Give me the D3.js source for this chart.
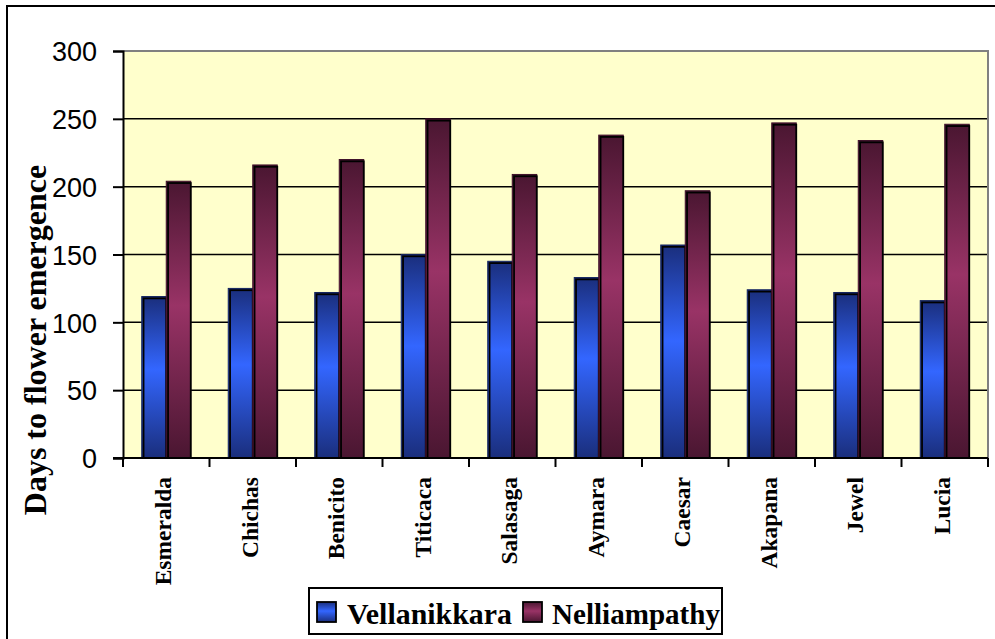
<!DOCTYPE html>
<html><head><meta charset="utf-8">
<script src="https://cdn.jsdelivr.net/npm/d3@7"></script>
<style>html,body{margin:0;padding:0;background:#fff;}svg{display:block;}</style>
</head><body>
<svg id="chart" width="995" height="639"></svg>
<script>
const categories = ["Esmeralda","Chichas","Benicito","Titicaca","Salasaga","Aymara","Caesar","Akapana","Jewel","Lucia"];
const seriesNames = ["Vellanikkara","Nelliampathy"];
const vellanikkara = [119, 125, 122, 150, 145, 133, 157, 124, 122, 116];
const nelliampathy = [204, 216, 220, 250, 209, 238, 197, 247, 234, 246];
const yTicks = [0, 50, 100, 150, 200, 250, 300];
const yTitle = "Days to flower emergence";

const svg = d3.select("#chart");
const L = 123, R = 988, T = 51, B = 458;

const x = d3.scaleBand().domain(categories).range([L, R]).padding(0);
const xs = d3.scaleBand().domain(seriesNames).range([0, x.bandwidth()]).paddingInner(0).paddingOuter(0.765);
const y = d3.scaleLinear().domain([0, 300]).range([B, T]);

const defs = svg.append("defs");
const grads = [
  {id: "gBlue", dark: "#1a2e7c", mid: "#3366ff", stroke: "#14245e"},
  {id: "gMaroon", dark: "#4a1631", mid: "#993366", stroke: "#3d1028"}
];
grads.forEach(g => {
  const lg = defs.append("linearGradient").attr("id", g.id).attr("x1", 0).attr("y1", 0).attr("x2", 0).attr("y2", 1);
  lg.append("stop").attr("offset", "0%").attr("stop-color", g.dark);
  lg.append("stop").attr("offset", "45%").attr("stop-color", g.mid);
  lg.append("stop").attr("offset", "100%").attr("stop-color", g.dark);
});

// outer frame
svg.append("rect").attr("x", 7).attr("y", 6).attr("width", 1100).attr("height", 1100)
  .attr("fill", "#fff").attr("stroke", "#000").attr("stroke-width", 2);

// plot area
svg.append("rect").attr("x", L).attr("y", T).attr("width", R - L).attr("height", B - T)
  .attr("fill", "#ffffcc");

// gridlines
svg.append("g").selectAll("line").data(yTicks.filter(d => d > 0 && d < 300)).join("line")
  .attr("x1", L).attr("x2", R).attr("y1", d => y(d)).attr("y2", d => y(d))
  .attr("stroke", "#000").attr("stroke-width", 1.5);
// top & right border grey
svg.append("line").attr("x1", L).attr("x2", R + 1).attr("y1", T).attr("y2", T).attr("stroke", "#808080").attr("stroke-width", 2);
svg.append("line").attr("x1", R).attr("x2", R).attr("y1", T).attr("y2", B).attr("stroke", "#808080").attr("stroke-width", 2);

// bars
const data = categories.map((c, i) => ({c, vals: [vellanikkara[i], nelliampathy[i]]}));
const gBars = svg.append("g");
data.forEach(d => {
  d.vals.forEach((v, j) => {
    const bx = x(d.c) + xs(seriesNames[j]);
    const bw = xs.bandwidth();
    const by = y(v);
    const bh = y(0) - y(v);
    gBars.append("rect").attr("x", bx).attr("y", by).attr("width", bw).attr("height", bh)
      .attr("fill", `url(#${grads[j].id})`).attr("stroke", grads[j].stroke).attr("stroke-width", 1);
    gBars.append("rect").attr("x", bx + 1.8).attr("y", by + 1.8).attr("width", bw - 1.8).attr("height", Math.max(0, bh - 1.8))
      .attr("fill", "none").attr("stroke", "#000").attr("stroke-width", 1.8);
  });
});

// y axis
const yAxis = d3.axisLeft(y).tickValues(yTicks).tickSize(10).tickPadding(16).tickFormat(d3.format("d"));
const ga = svg.append("g").attr("transform", `translate(${L},0)`).call(yAxis);
ga.select(".domain").attr("stroke", "#000").attr("stroke-width", 2);
ga.selectAll(".tick line").attr("stroke", "#000").attr("stroke-width", 2);
ga.selectAll(".tick text").attr("font-family", "Arial, 'Liberation Sans', sans-serif")
  .attr("font-size", 27).attr("fill", "#000").attr("dy", "0.36em");

// x axis
const gx = svg.append("g").attr("transform", `translate(0,${B})`);
gx.append("line").attr("x1", L - 10).attr("x2", R).attr("y1", 0).attr("y2", 0).attr("stroke", "#000").attr("stroke-width", 2);
const boundaries = categories.map(c => x(c)).concat([x(categories[categories.length - 1]) + x.bandwidth()]);
gx.selectAll("line.t").data(boundaries).join("line").attr("class", "t")
  .attr("x1", d => d).attr("x2", d => d).attr("y1", 0).attr("y2", 9)
  .attr("stroke", "#000").attr("stroke-width", 2);

svg.append("g").selectAll("text").data(categories).join("text")
  .attr("transform", d => `translate(${x(d) + x.bandwidth() / 2 + 5},477) rotate(-90)`)
  .attr("text-anchor", "end")
  .attr("font-family", "'Times New Roman', 'Liberation Serif', serif")
  .attr("font-weight", "bold").attr("font-size", 23.5).attr("fill", "#000")
  .text(d => d);

// y title
svg.append("text").attr("transform", "translate(46,340) rotate(-90)")
  .attr("text-anchor", "middle")
  .attr("font-family", "'Times New Roman', 'Liberation Serif', serif")
  .attr("font-weight", "bold").attr("font-size", 32).attr("fill", "#000")
  .text(yTitle);

// legend
const lg = svg.append("g");
lg.append("rect").attr("x", 309).attr("y", 588).attr("width", 413).attr("height", 46)
  .attr("fill", "#fff").attr("stroke", "#000").attr("stroke-width", 2);
const legendItems = [
  {name: seriesNames[0], sx: 317, tx: 347, len: 165},
  {name: seriesNames[1], sx: 523, tx: 552, len: 168}
];
legendItems.forEach((it, j) => {
  lg.append("rect").attr("x", it.sx).attr("y", 602).attr("width", 19).attr("height", 20)
    .attr("fill", `url(#${grads[j].id})`).attr("stroke", "#000").attr("stroke-width", 1.8);
  lg.append("text").attr("x", it.tx).attr("y", 624)
    .attr("font-family", "'Times New Roman', 'Liberation Serif', serif")
    .attr("font-weight", "bold").attr("font-size", 30).attr("fill", "#000")
    .attr("textLength", it.len).attr("lengthAdjust", "spacingAndGlyphs")
    .text(it.name);
});
</script>
</body></html>
